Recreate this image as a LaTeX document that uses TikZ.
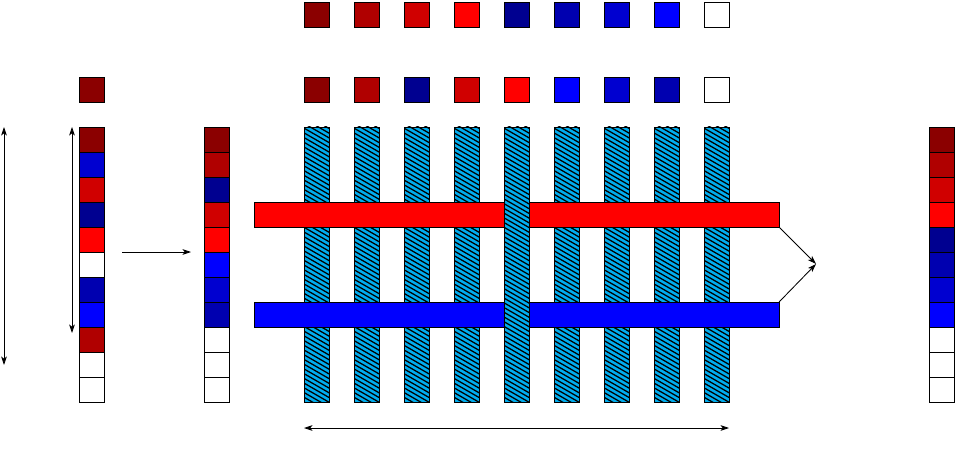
\documentclass[tikz,border=0pt]{standalone}
\usetikzlibrary{arrows.meta}
\definecolor{ra}{HTML}{8B0000}
\definecolor{rb}{HTML}{B00000}
\definecolor{rc}{HTML}{D00000}
\definecolor{rd}{HTML}{FF0000}
\definecolor{ba}{HTML}{000090}
\definecolor{bb}{HTML}{0000B0}
\definecolor{bc}{HTML}{0000D0}
\definecolor{bd}{HTML}{0000FF}
\begin{document}
\begin{tikzpicture}[x=0.025cm,y=-0.025cm,
  cell/.style={draw=black, line width=0.6pt, minimum size=0.625cm, inner sep=0pt, outer sep=0pt},
  hatchbar/.style={draw=black, line width=0.6pt, fill=cyan, minimum width=0.625cm, minimum height=6.875cm, inner sep=0pt, outer sep=0pt,
    path picture={\foreach \k in {-4,...,60}
      \draw[black, line width=0.9pt] ([shift={(-0.05cm,-\k*0.118cm)}]path picture bounding box.north west) -- ++(0.75cm,-0.433cm);}},
  hbar/.style={draw=black, line width=0.6pt, minimum width=13.125cm, minimum height=0.625cm, inner sep=0pt, outer sep=0pt},
  arr/.style={line width=0.6pt, -{Stealth[length=6pt,width=4pt,inset=1.5pt]}},
  darr/.style={line width=0.6pt, {Stealth[length=6pt,width=4pt,inset=1.5pt]}-{Stealth[length=6pt,width=4pt,inset=1.5pt]}}]
\useasboundingbox (0,0) rectangle (964,452);
% top row
\foreach \c [count=\i from 0] in {ra,rb,rc,rd,ba,bb,bc,bd,white}
  \node[cell, fill=\c] (t\i) at (316.5+50*\i, 14.5) {};
% second row
\node[cell, fill=ra] (s) at (91.5, 89.5) {};
\foreach \c [count=\i from 0] in {ra,rb,ba,rc,rd,bd,bc,bb,white}
  \node[cell, fill=\c] (u\i) at (316.5+50*\i, 89.5) {};
% column A
\foreach \c [count=\i from 0] in {ra,bc,rc,ba,rd,white,bb,bd,rb,white,white}
  \node[cell, fill=\c] (a\i) at (91.5, 139.5+25*\i) {};
% column B
\foreach \c [count=\i from 0] in {ra,rb,ba,rc,rd,bd,bc,bb,white,white,white}
  \node[cell, fill=\c] (b\i) at (216.5, 139.5+25*\i) {};
% right column
\foreach \c [count=\i from 0] in {ra,rb,rc,rd,ba,bb,bc,bd,white,white,white}
  \node[cell, fill=\c] (r\i) at (941.5, 139.5+25*\i) {};
% hatched bars (behind)
\foreach \i in {0,1,2,3,5,6,7,8}
  \node[hatchbar] (h\i) at (316.5+50*\i, 264.5) {};
% horizontal bars
\node[hbar, fill=rd] (red) at (516.5, 214.5) {};
\node[hbar, fill=bd] (blue) at (516.5, 314.5) {};
% hatched bar on top
\node[hatchbar] (h4) at (516.5, 264.5) {};
% arrows
\coordinate (v1a) at (4,127);
\coordinate (v1b) at (4,365);
\coordinate (v2a) at (72,127);
\coordinate (v2b) at (72,333);
\draw[darr] (v1a) -- (v1b);
\draw[darr] (v2a) -- (v2b);
\coordinate (ha) at (122,252);
\coordinate (hb) at (191,252);
\draw[arr] (ha) -- (hb);
\coordinate (m) at (816,264);
\draw[arr] (red.south east) -- (m);
\draw[arr] (blue.north east) -- (m);
\coordinate (ba1) at (304,428);
\coordinate (ba2) at (729,428);
\draw[darr] (ba1) -- (ba2);
\end{tikzpicture}
\end{document}
